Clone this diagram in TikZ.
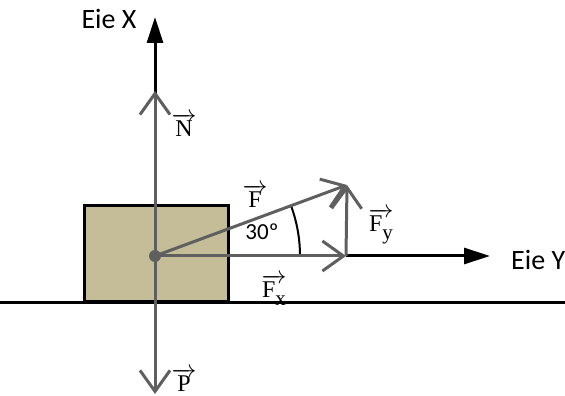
\documentclass[tikz,border=0pt]{standalone}
\usepackage{fontspec}
\setmainfont{Carlito}
\newfontfamily\vfont{Liberation Serif}
\usetikzlibrary{arrows.meta}
\definecolor{vgray}{RGB}{95,95,95}
\definecolor{blockfill}{RGB}{196,189,151}
\newcommand{\vlabel}[2]{$\overrightarrow{\hbox{\vfont #1\raisebox{-0.3em}{\fontsize{21}{21}\selectfont #2}}}$}
\begin{document}
\begin{tikzpicture}[x=1pt,y=1pt,
  axis/.style={line width=3pt,black,-{Triangle[length=26pt,width=16pt]}},
  vec/.style={line width=3pt,vgray,-{Straight Barb[length=21pt,width=30pt,line width=3pt]}},
  lab/.style={font=\fontsize{28}{32}\selectfont,inner sep=0pt,anchor=base},
  vlab/.style={font=\fontsize{24}{28}\selectfont,inner sep=0pt,anchor=base}]
\useasboundingbox (0,0) rectangle (565,396);
% label partly under the ground line
\node[vlab] (lFx) at (274,98) {\vlabel{F}{x}};
% ground and block
\draw[line width=3pt] (0,93) -- (565,93);
\node[draw,line width=3pt,fill=blockfill,minimum width=144pt,minimum height=96pt,inner sep=0pt,anchor=south west] (block) at (83,93) {};
% points
\coordinate (O) at (155,140);
\coordinate (Xend) at (155,379);
\coordinate (Yend) at (490,140);
\coordinate (Ntip) at (155,305);
\coordinate (Ptip) at (155,2);
\coordinate (Ftip) at (347,211);
\coordinate (Fxtip) at (346,140);
% axes
\draw[axis] (O) -- (Xend);
\draw[axis] (Fxtip) -- (Yend);
% arc
\draw[line width=2pt] ([shift={(0:145)}]O) arc[start angle=0,end angle=20,radius=145];
% vectors
\draw[vec] (O) -- (Ntip);
\draw[vec] (O) -- (Ptip);
\draw[vec] (O) -- (Ftip);
\draw[vec] (O) -- (Fxtip);
\draw[vec] (Fxtip) -- (Ftip);
\fill[vgray] (O) circle (6);
% labels
\node[lab] (ejex) at (109,367) {Eie X};
\node[lab,anchor=base west] (ejey) at (511,126) {Eie Y};
\node[vlab] (lN) at (184,259) {\vlabel{N}{}};
\node[vlab] (lF) at (255,188) {\vlabel{F}{}};
\node[lab,font=\fontsize{23}{27}\selectfont] (l30) at (262,156) {30º};
\node[vlab] (lFy) at (381,164) {\vlabel{F}{y}};
\node[vlab] (lP) at (184,4) {\vlabel{P}{}};
\end{tikzpicture}
\end{document}
